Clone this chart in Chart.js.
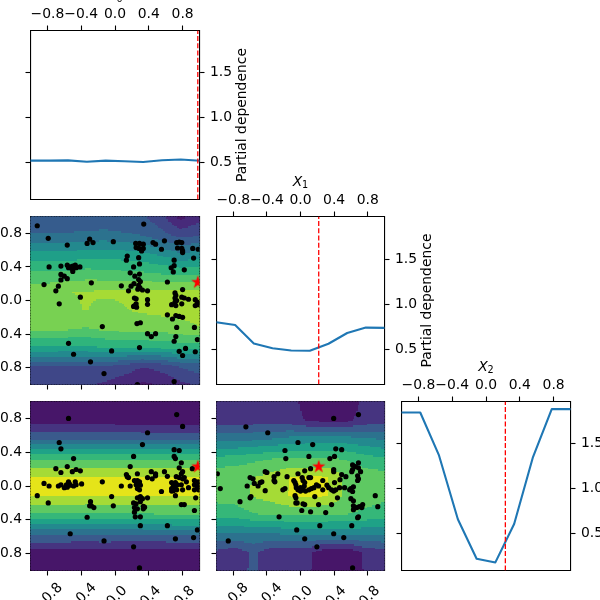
<!DOCTYPE html>
<html><head><meta charset="utf-8">
<style>html,body{margin:0;padding:0;background:#fff;overflow:hidden}
#w{position:relative;width:600px;height:600px}
canvas{position:absolute;left:0;top:0}</style>
<script src="https://cdn.jsdelivr.net/npm/chart.js@4"></script>
</head><body><div id="w"></div>
<script>
const xTicks=[-0.8,-0.4,0,0.4,0.8];
const pdTicks=[0.5,1.0,1.5];
const knots=[-1,-0.778,-0.556,-0.333,-0.111,0.111,0.333,0.556,0.778,1];
const pdX0=[0.522,0.523,0.525,0.510,0.522,0.515,0.508,0.527,0.535,0.522];
const pdX1=[0.80,0.77,0.563,0.51,0.485,0.481,0.56,0.68,0.74,0.737];
const pdX2=[1.848,1.848,1.37,0.66,0.22,0.18,0.607,1.352,1.885,1.885];
const bestX0=0.98, bestX1=0.217, bestX2=0.229;

const levels0=[0,1,2,3,4,5,6,7,8,9,10,11];
const colors0=['#a6db35','#78d152','#4ec36b','#2fb47c','#1f9f88','#23898e','#2c728e','#365c8d','#3f4788','#472a7a','#461868'];
const levelsPD=[0,0.2,0.4,0.6,0.8,1.0,1.2,1.4,1.6,1.8,2.0];
const colorsPD=['#e5e419','#a5db36','#5ec962','#35b779','#1fa287','#23898e','#2c728e','#3a5a8c','#463480','#471669'];

const zX0X1=[
[8.6,8.6,8.6,8.8,9.2,9.7,10.2,9.9,9.3,8.8],
[8.1,8.1,8.0,8.1,8.0,8.4,8.95,8.6,7.9,7.5],
[4.1,4.1,4.3,4.2,4.0,3.9,3.8,3.8,3.6,3.5],
[1.9,1.9,1.9,2.1,1.8,1.7,1.7,1.6,1.4,1.1],
[1.3,1.3,1.15,0.95,1.25,1.05,0.85,0.75,0.65,0.55],
[1.35,1.35,1.0,0.98,0.85,0.9,0.85,0.8,0.75,0.7],
[2.8,2.8,2.8,2.6,2.7,2.8,2.9,3.1,3.3,3.2],
[4.7,4.7,4.7,4.4,4.5,4.5,4.7,5.2,5.8,5.6],
[6.8,6.8,6.8,6.7,6.6,6.8,7.0,7.6,8.3,8.0],
[7.9,7.9,7.9,7.9,7.9,7.85,7.8,8.7,10.3,9.4]];
const zX0X2=[
[1.9,1.9,1.9,1.9,1.9,1.9,1.9,1.9,1.9,1.9],
[1.87,1.87,1.87,1.88,1.88,1.89,1.9,1.91,1.91,1.91],
[1.37,1.37,1.37,1.37,1.36,1.36,1.35,1.34,1.33,1.33],
[0.63,0.63,0.63,0.65,0.63,0.63,0.63,0.61,0.6,0.6],
[0.19,0.19,0.19,0.19,0.19,0.19,0.19,0.19,0.19,0.19],
[0.19,0.19,0.19,0.19,0.19,0.19,0.19,0.19,0.19,0.19],
[0.62,0.62,0.62,0.62,0.62,0.62,0.62,0.62,0.62,0.62],
[1.39,1.39,1.39,1.39,1.4,1.4,1.41,1.42,1.42,1.42],
[1.89,1.89,1.89,1.89,1.9,1.91,1.92,1.93,1.93,1.93],
[1.92,1.92,1.92,1.92,1.92,1.92,1.92,1.92,1.92,1.92]];
const zX1X2=[
[1.72,1.72,1.55,1.75,1.75,1.78,1.95,1.95,1.78,1.72],
[1.65,1.73,1.55,1.73,1.72,1.76,1.95,1.95,1.76,1.68],
[1.2,1.2,1.2,1.2,1.15,1.15,1.15,1.15,1.15,1.15],
[0.72,0.72,0.62,0.58,0.58,0.58,0.59,0.6,0.65,0.7],
[0.53,0.5,0.38,0.32,0.18,0.17,0.19,0.47,0.5,0.55],
[0.45,0.43,0.4,0.33,0.19,0.17,0.19,0.47,0.48,0.52],
[0.75,0.72,0.66,0.61,0.6,0.6,0.6,0.62,0.72,0.78],
[1.25,1.25,1.22,1.18,1.12,1.1,1.1,1.1,1.15,1.2],
[1.7,1.7,1.7,1.7,1.72,1.82,1.84,1.84,1.72,1.68],
[1.75,1.75,1.75,1.75,1.68,1.95,1.95,1.95,1.72,1.7]];

const ptsX0X1=[[-.92,.89],[-.79,.74],[-.565,.66],[-.78,.40],[-.84,.19],[-.67,.17],[-.70,.115],[-.66,-.04],[-.64,.41],[-.64,.31],[-.60,.29],[-.64,.245],[-.565,.26],[-.565,.42],[-.55,.39],[-.53,.40],[-.51,.38],[-.50,.41],[-.48,.39],[-.47,.42],[-.46,.39],[-.50,.345],[-.415,.40],[-.30,.73],[-.33,.68],[-.26,.69],[-.28,.21],[-.41,.04],[-.02,.70],[.34,.91],[-.15,-.31],[-.55,-.51],[-.49,-.64],[-.29,-.73],[-.04,-.60],[-.13,-.87],[.265,-1.0],[.245,.68],[.29,.68],[.335,.67],[.25,.63],[.285,.62],[.315,.59],[.335,.62],[.28,.51],[.145,.53],[.135,.48],[.29,.435],[.22,.40],[.18,.33],[.29,.315],[.235,.29],[.28,.25],[.30,.225],[.225,.20],[.19,.17],[.075,.175],[.16,.115],[.28,.18],[.295,.15],[.27,.135],[.325,.125],[.385,.115],[.23,.03],[.25,.02],[.385,.01],[.385,-.045],[.25,-.04],[.23,-.065],[.255,-.08],[.22,-.07],[.26,-.275],[.30,-.265],[.385,-.395],[.43,-.43],[.48,-.395],[.29,-.56],[.45,.69],[.48,.67],[.585,.71],[.55,.61],[.73,.69],[.76,.695],[.79,.69],[.74,.625],[.79,.62],[.80,.59],[.80,.57],[.92,.62],[.985,.61],[.93,.505],[.70,.48],[.70,.415],[.665,.39],[.69,.34],[.82,.365],[.62,.22],[.80,.13],[.71,.09],[.72,.06],[.71,.03],[.73,0],[.71,-.02],[.79,.04],[.82,.03],[.87,.015],[.72,-.06],[.67,-.05],[.79,-.04],[.95,.01],[.975,-.02],[.95,-.06],[.99,-.05],[.62,-.17],[.72,-.18],[.68,-.22],[.76,-.19],[.80,-.20],[.73,-.32],[.94,-.32],[.72,-.43],[.70,-.485],[.975,-.465],[.76,-.605],[.835,-.57],[.80,-.655],[.95,-.61],[.70,-.965]];
const ptsX0X2=[[-.55,.80],[-.66,.515],[-.64,.44],[-.49,.325],[-.565,.23],[-.70,.205],[-.64,.16],[-.505,.17],[-.46,.195],[-.41,.18],[-.84,.03],[-.78,0],[-.92,-.115],[-.79,-.20],[-.67,0],[-.64,.015],[-.60,-.02],[-.565,-.015],[-.55,.05],[-.54,.025],[-.575,.015],[-.53,.01],[-.49,0],[-.47,.05],[-.46,.015],[-.395,.025],[-.15,.05],[-.04,-.125],[-.02,-.235],[-.29,-.185],[-.30,-.235],[-.28,-.235],[-.25,-.255],[-.33,-.37],[-.53,-.565],[-.13,-.65],[.385,.63],[.325,.49],[.22,.35],[.18,.23],[.135,.135],[.145,.11],[.16,.10],[.075,0],[.18,0],[.265,.145],[.23,.065],[.265,.065],[.29,.05],[.25,.015],[.30,.01],[.265,-.03],[.29,-.045],[.385,.10],[.43,.17],[.48,.145],[.48,.12],[.44,.085],[.385,-.14],[.265,-.14],[.30,-.125],[.325,-.15],[.22,-.20],[.25,-.21],[.30,-.185],[.335,-.24],[.35,-.25],[.335,-.27],[.23,-.255],[.265,-.27],[.23,-.31],[.24,-.365],[.30,-.365],[.30,-.47],[.22,-.72],[.29,-.97],[.55,-.065],[.585,.17],[.62,.115],[.73,.845],[.80,.705],[.70,.43],[.76,.42],[.70,.35],[.715,.325],[.785,.275],[.76,.215],[.80,.17],[.785,.145],[.725,.11],[.76,.10],[.80,.085],[.82,.10],[.67,.04],[.715,.04],[.74,.015],[.69,0],[.67,-.03],[.715,-.03],[.73,-.045],[.69,-.055],[.67,-.06],[.785,.015],[.80,-.045],[.845,.05],[.87,-.02],[.715,-.115],[.785,-.22],[.82,-.22],[.62,-.47],[.715,-.625],[.915,.205],[.94,.065],[.94,.015],[.985,.05],[.99,.015],[.975,-.02],[.94,-.045],[.99,-.045],[.955,-.14],[.94,-.29],[.975,-.52],[.93,-.61]];
const ptsX1X2=[[-.65,.70],[-.39,.63],[-.03,.515],[.145,.49],[-.185,.42],[-.175,.325],[.10,.35],[.395,.80],[.69,.845],[.42,.44],[.49,.43],[.405,.35],[.35,.325],[-.99,.145],[-.955,-.03],[-.72,-.185],[-.86,-.65],[-.42,.17],[-.40,.16],[-.27,.145],[-.315,.11],[-.315,.065],[-.305,.05],[-.16,.11],[-.60,.10],[-.565,.085],[-.635,0],[-.46,.05],[-.48,.04],[-.505,0],[-.55,.03],[-.42,-.055],[-.185,-.03],[-.21,-.045],[-.59,-.125],[-.60,-.14],[-.03,.145],[.05,.18],[.12,.205],[-.08,.065],[-.065,.04],[-.055,.015],[.02,.10],[.03,.065],[.05,.04],[.10,.10],[.12,.10],[.265,.065],[.395,.195],[.395,.17],[.49,.135],[.54,.11],[.405,.04],[.47,.075],[.525,-.02],[.465,-.02],[.44,-.14],[-.05,-.02],[-.03,-.045],[0,-.06],[.03,-.045],[.06,-.06],[.10,-.045],[.13,-.03],[.16,-.02],[.19,.015],[.215,0],[.265,-.045],[.315,.01],[.335,-.02],[.37,-.045],[.395,-.06],[.42,-.045],[0,-.02],[.045,0],[.17,-.125],[-.065,-.115],[-.055,-.14],[-.04,-.20],[-.055,-.20],[.03,-.21],[.05,-.22],[.215,-.22],[.37,-.22],[.015,-.29],[.12,-.305],[.30,-.315],[-.255,-.365],[.23,-.47],[-.045,-.52],[.395,-.565],[.05,-.625],[.515,-.61],[.195,-.72],[.62,-.97],[.61,-.47],[.62,.25],[.69,.275],[.655,.23],[.69,.215],[.61,.17],[.62,.195],[.715,.17],[.68,.12],[.69,.085],[.68,.065],[.63,-.01],[.60,-.03],[.585,-.045],[.62,-.065],[.60,-.15],[.63,-.175],[.63,-.235],[.63,-.28],[.67,-.255],[.70,-.245],[.74,-.22],[.73,-.255],[.69,-.365],[.68,-.375],[.89,-.115],[.92,-.245]];

const FONT='"DejaVu Sans"';
Chart.defaults.font.family=FONT;
Chart.defaults.font.size=13.9;
Chart.defaults.color='#000';
const LINE='#1f77b4';
const wrap=document.getElementById('w');

function starImage(R){
  const s=Math.ceil(R*2+2),c=document.createElement('canvas');c.width=s;c.height=s;
  const g=c.getContext('2d');g.fillStyle='#ff0000';g.beginPath();
  for(let i=0;i<10;i++){const r=i%2?R*0.382:R,a=-Math.PI/2+i*Math.PI/5;
    const px=s/2+r*Math.cos(a),py=s/2+r*Math.sin(a);i?g.lineTo(px,py):g.moveTo(px,py);}
  g.closePath();g.fill();return c;
}
const STAR=starImage(7);
const fmt=v=>{const n=Number(v);return (n<0?'\u2212':'')+Math.abs(n).toFixed(1);};
const fmtRot=v=>Number(v)<0?fmt(v):fmt(v)+' ';

function contourPlugin(z,levels,colors){return {id:'contour',beforeDatasetsDraw(ch){
  const g=ch.ctx,X=ch.scales.x,Y=ch.scales.y,a=ch.chartArea,n=12;
  g.save();g.beginPath();g.rect(a.left,a.top,a.right-a.left,a.bottom-a.top);g.clip();
  for(let j=0;j<knots.length-1;j++)for(let i=0;i<knots.length-1;i++){
    for(let q=0;q<n;q++)for(let p=0;p<n;p++){
      const u=(p+.5)/n,v=(q+.5)/n;
      const val=z[j][i]*(1-u)*(1-v)+z[j][i+1]*u*(1-v)+z[j+1][i]*(1-u)*v+z[j+1][i+1]*u*v;
      let b=0;while(b<colors.length-1&&val>=levels[b+1])b++;
      const dx=knots[i+1]-knots[i],dy=knots[j+1]-knots[j];
      const x0=X.getPixelForValue(knots[i]+dx*p/n),x1=X.getPixelForValue(knots[i]+dx*(p+1)/n);
      const y0=Y.getPixelForValue(knots[j]+dy*q/n),y1=Y.getPixelForValue(knots[j]+dy*(q+1)/n);
      g.fillStyle=colors[b];
      g.fillRect(Math.floor(x0),Math.floor(y1),Math.ceil(x1)-Math.floor(x0),Math.ceil(y0)-Math.floor(y1));
    }
  }
  g.restore();
}};}
const ylabelPlugin={id:'pdLabel',afterDraw(ch){
  const a=ch.chartArea,g=ch.ctx;g.save();
  g.translate(a.right+42.5,(a.top+a.bottom)/2);g.rotate(-Math.PI/2);
  g.font='13.9px '+FONT;g.fillStyle='#000';g.textAlign='center';g.textBaseline='middle';
  g.fillText('Partial dependence',0,0);g.restore();
}};
function xLabelPlugin(sub){return {id:'xLabel',afterDraw(ch){
  const a=ch.chartArea,g=ch.ctx,cx=(a.left+a.right)/2,base=a.top-31;
  g.save();g.fillStyle='#000';g.textBaseline='alphabetic';g.textAlign='left';
  g.font='italic 13.9px '+FONT;g.fillText('X',cx-7.7,base);
  g.font='9.7px '+FONT;g.fillText(sub,cx+1.6,base+2.1);
  g.restore();
}};}

function axis(pos,cfg,box){
  const horiz=pos==='top'||pos==='bottom';
  const size={left:box.l,right:600-box.r,top:box.t,bottom:600-box.b}[pos];
  const o={type:'linear',position:pos,min:cfg.min,max:cfg.max,z:1,
    afterBuildTicks:s=>{s.ticks=cfg.ticks.map(v=>({value:v}));},
    afterFit:s=>{if(horiz)s.height=size;else s.width=size;s.paddingLeft=s.paddingRight=s.paddingTop=s.paddingBottom=0;},
    border:{display:true,color:'#000',width:1.1},
    grid:{drawOnChartArea:false,drawTicks:cfg.marks,tickLength:5,tickWidth:1.1,tickColor:'#000',color:'#000'},
    ticks:{display:cfg.labels,autoSkip:false,maxRotation:0,minRotation:0,padding:cfg.pad??3.5,callback:fmt,color:'#000',font:{size:13.9,family:FONT}}};
  if(cfg.rotate){o.ticks.maxRotation=45;o.ticks.minRotation=45;o.ticks.labelOffset=13;o.ticks.padding=4;o.ticks.callback=fmtRot;}
  return o;
}
function panel(box,spec,datasets,plugins){
  const c=document.createElement('canvas');c.width=600;c.height=600;wrap.appendChild(c);
  const yr=spec.yr;
  new Chart(c,{type:'scatter',data:{datasets},plugins,options:{
    responsive:false,animation:false,devicePixelRatio:1,
    layout:{padding:0},
    plugins:{legend:{display:false},tooltip:{enabled:false},title:{display:false}},
    scales:{
      x:axis('bottom',{min:-1,max:1,ticks:xTicks,marks:spec.bottom>0,labels:spec.bottom>1,rotate:true},box),
      xt:axis('top',{min:-1,max:1,ticks:xTicks,marks:!!spec.top,labels:!!spec.top,pad:2.5},box),
      y:axis('left',{min:yr[0],max:yr[1],ticks:spec.yt,marks:true,labels:spec.leftLab},box),
      yr:axis('right',{min:yr[0],max:yr[1],ticks:spec.yt,marks:!!spec.right,labels:!!spec.right,pad:5.5},box)
    }}});
}
const toXY=a=>a.map(p=>({x:p[0],y:p[1]}));
function curve(vals,best,yr){return [
  {data:[{x:best,y:yr[0]},{x:best,y:yr[1]}],showLine:true,borderColor:'#ff0000',borderWidth:1.3,borderDash:[5,2.2],pointRadius:0},
  {data:knots.map((x,i)=>({x,y:vals[i]})),showLine:true,borderColor:LINE,borderWidth:2.1,pointRadius:0,borderCapStyle:'square',borderJoinStyle:'round'}
];}
function scatterSets(pts,bx,by){return [
  {data:[{x:bx,y:by}],pointStyle:STAR,pointRadius:7,backgroundColor:'#ff0000'},
  {data:toXY(pts),pointStyle:'circle',pointRadius:2.6,pointBorderWidth:0,borderWidth:0,backgroundColor:'#000'}
];}
const C=[{l:30.5,r:199.5},{l:216.5,r:384.5},{l:401.5,r:570.5}];
const R=[{t:30.5,b:199.5},{t:216.5,b:384.5},{t:401.5,b:570.5}];
const bx=(c,r)=>({l:C[c].l,r:C[c].r,t:R[r].t,b:R[r].b});
const yrPD=[0.09,1.97],yrPD2=[0.105,1.98];

panel(bx(0,0),{yr:yrPD,yt:pdTicks,top:true,right:true,leftLab:false,bottom:0},curve(pdX0,bestX0,yrPD),[ylabelPlugin,xLabelPlugin('0')]);
panel(bx(1,1),{yr:yrPD2,yt:pdTicks,top:true,right:true,leftLab:false,bottom:0},curve(pdX1,bestX1,yrPD2),[ylabelPlugin,xLabelPlugin('1')]);
panel(bx(2,2),{yr:yrPD,yt:pdTicks,top:true,right:true,leftLab:false,bottom:0},curve(pdX2,bestX2,yrPD),[xLabelPlugin('2')]);
panel(bx(0,1),{yr:[-1,1],yt:xTicks,leftLab:true,bottom:1},scatterSets(ptsX0X1,bestX0,bestX1),[contourPlugin(zX0X1,levels0,colors0)]);
panel(bx(0,2),{yr:[-1,1],yt:xTicks,leftLab:true,bottom:2},scatterSets(ptsX0X2,bestX0,bestX2),[contourPlugin(zX0X2,levelsPD,colorsPD)]);
panel(bx(1,2),{yr:[-1,1],yt:xTicks,leftLab:false,bottom:2},scatterSets(ptsX1X2,bestX1,bestX2),[contourPlugin(zX1X2,levelsPD,colorsPD)]);
</script></body></html>
